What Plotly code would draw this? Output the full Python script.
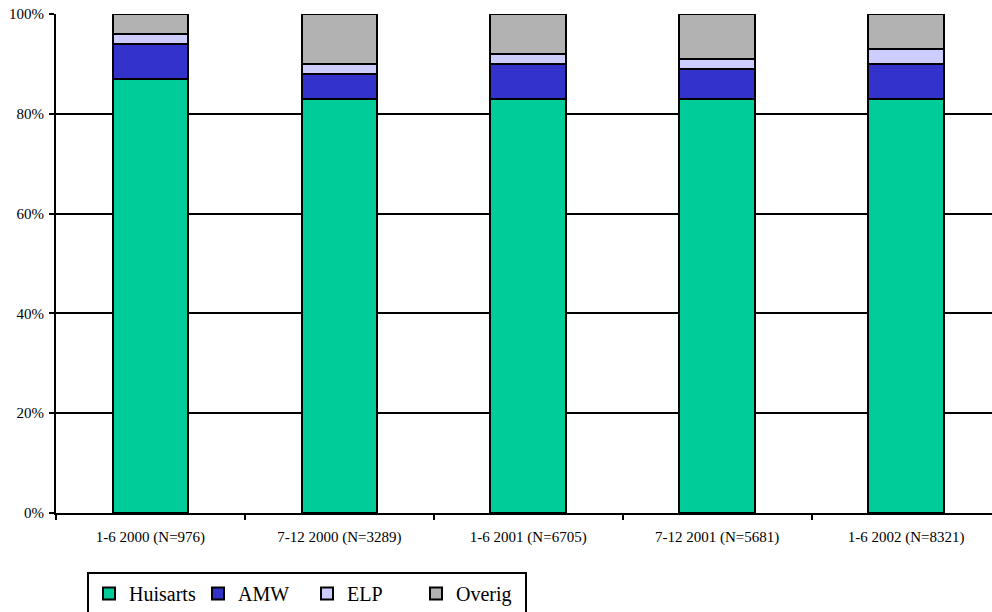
import plotly.graph_objects as go

categories = ["1-6 2000 (N=976)", "7-12 2000 (N=3289)", "1-6 2001 (N=6705)",
              "7-12 2001 (N=5681)", "1-6 2002 (N=8321)"]
huisarts = [87, 83, 83, 83, 83]
amw = [7, 5, 7, 6, 7]
elp = [2, 2, 2, 2, 3]
overig = [4, 10, 8, 9, 7]
y_ticks = [0, 20, 40, 60, 80, 100]
y_tick_labels = ["0%", "20%", "40%", "60%", "80%", "100%"]

series = [("Huisarts", huisarts, "#00CC99"),
          ("AMW", amw, "#3333CC"),
          ("ELP", elp, "#CCCCFF"),
          ("Overig", overig, "#B2B2B2")]

FONT = "Times New Roman"

fig = go.Figure()
for name, vals, col in series:
    fig.add_trace(go.Bar(x=categories, y=vals, name=name,
                         marker=dict(color=col, line=dict(color="black", width=2)),
                         width=0.4))

fig.update_layout(
    barmode="stack",
    width=992, height=612,
    margin=dict(l=56, r=0, t=14, b=99),
    plot_bgcolor="white", paper_bgcolor="white",
    font=dict(family=FONT, color="black", size=15),
    legend=dict(orientation="h", xref="container", yref="container",
                x=87/992, y=1-572/612, xanchor="left", yanchor="top",
                bordercolor="black", borderwidth=2,
                font=dict(family=FONT, size=20, color="black"),
                itemwidth=30, traceorder="normal",
                entrywidth=64, entrywidthmode="pixels"),
    showlegend=True,
)
fig.update_xaxes(type="category", range=[-0.5, 4.455],
                 showline=True, linecolor="black", linewidth=2,
                 ticks="outside", tickson="boundaries", ticklen=5,
                 tickcolor="black", tickwidth=2, showgrid=False,
                 ticklabelstandoff=9,
                 tickfont=dict(family=FONT, size=15, color="black"))
fig.update_yaxes(range=[0, 100], tickmode="array", tickvals=y_ticks,
                 ticktext=y_tick_labels,
                 showline=True, linecolor="black", linewidth=2,
                 ticks="outside", ticklen=5, tickcolor="black", tickwidth=2,
                 showgrid=True, gridcolor="black", gridwidth=2, zeroline=False,
                 ticklabelstandoff=2,
                 tickfont=dict(family=FONT, size=15, color="black"))

fig.write_html("out.html")
